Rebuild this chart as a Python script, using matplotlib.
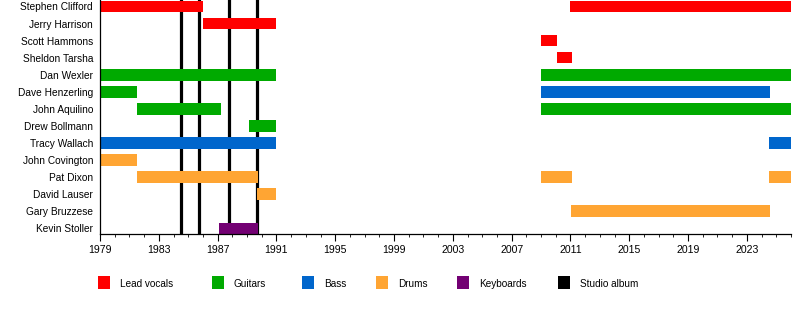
import matplotlib.pyplot as plt
from matplotlib.patches import Rectangle

plt.rcParams["font.family"] = ["Liberation Sans", "DejaVu Sans"]

C_VOCALS = "#ff0000"
C_GUITARS = "#00aa00"
C_BASS = "#0066cc"
C_DRUMS = "#ffa533"
C_KEYS = "#730073"
C_ALBUM = "#000000"

members = [
    "Stephen Clifford", "Jerry Harrison", "Scott Hammons", "Sheldon Tarsha",
    "Dan Wexler", "Dave Henzerling", "John Aquilino", "Drew Bollmann",
    "Tracy Wallach", "John Covington", "Pat Dixon", "David Lauser",
    "Gary Bruzzese", "Kevin Stoller",
]

# (member, start, end, colour)
periods = [
    ("Stephen Clifford", 1979.0, 1986.0, C_VOCALS),
    ("Stephen Clifford", 2011.0, 2026.0, C_VOCALS),
    ("Jerry Harrison", 1986.0, 1991.0, C_VOCALS),
    ("Scott Hammons", 2009.0, 2010.1, C_VOCALS),
    ("Sheldon Tarsha", 2010.1, 2011.1, C_VOCALS),
    ("Dan Wexler", 1979.0, 1991.0, C_GUITARS),
    ("Dan Wexler", 2009.0, 2026.0, C_GUITARS),
    ("Dave Henzerling", 1979.0, 1981.5, C_GUITARS),
    ("Dave Henzerling", 2009.0, 2024.6, C_BASS),
    ("John Aquilino", 1981.5, 1987.2, C_GUITARS),
    ("John Aquilino", 2009.0, 2026.0, C_GUITARS),
    ("Drew Bollmann", 1989.15, 1991.0, C_GUITARS),
    ("Tracy Wallach", 1979.0, 1991.0, C_BASS),
    ("Tracy Wallach", 2024.5, 2026.0, C_BASS),
    ("John Covington", 1979.0, 1981.5, C_DRUMS),
    ("Pat Dixon", 1981.5, 1989.75, C_DRUMS),
    ("Pat Dixon", 2009.0, 2011.1, C_DRUMS),
    ("Pat Dixon", 2024.5, 2026.0, C_DRUMS),
    ("David Lauser", 1989.7, 1991.0, C_DRUMS),
    ("Gary Bruzzese", 2011.05, 2024.6, C_DRUMS),
    ("Kevin Stoller", 1987.1, 1989.75, C_KEYS),
]

albums = [1984.5, 1985.7, 1987.75, 1989.7]

legend_labels = ["Lead vocals", "Guitars", "Bass", "Drums", "Keyboards", "Studio album"]
legend_colors = [C_VOCALS, C_GUITARS, C_BASS, C_DRUMS, C_KEYS, C_ALBUM]

X_MIN, X_MAX = 1979, 2026

fig = plt.figure(figsize=(8, 3.34), dpi=100)
ax = fig.add_axes([100 / 800, 1 - 234 / 334, 691 / 800, 234 / 334])

for x in albums:
    ax.axvline(x, color=C_ALBUM, linewidth=2.3, zorder=1)

row = {m: i for i, m in enumerate(members)}
for name, start, end, color in periods:
    ax.barh(row[name], end - start, left=start, height=0.68, color=color,
            linewidth=0, zorder=2)

ax.set_xlim(X_MIN, X_MAX)
ax.set_ylim(len(members) - 1 + 0.33, -0.38)
ax.set_yticks(range(len(members)))
ax.set_yticklabels(members, fontsize=7.3)
ax.tick_params(axis="y", length=0, pad=5)
ax.set_xticks(range(1979, 2026, 4))
ax.set_xticks(range(1979, 2027), minor=True)
ax.tick_params(axis="x", which="major", length=5, width=0.8, labelsize=7.6, pad=3)
ax.tick_params(axis="x", which="minor", length=2.5, width=0.6)
for s in ("top", "right"):
    ax.spines[s].set_visible(False)
for s in ("left", "bottom"):
    ax.spines[s].set_linewidth(0.9)

# legend drawn as squares in figure pixels
sq_x = [98, 212, 302, 376, 457, 558]
for x0, lab, col in zip(sq_x, legend_labels, legend_colors):
    fig.patches.append(Rectangle((x0 / 800, 1 - 289 / 334), 12 / 800, 13 / 334,
                                 transform=fig.transFigure, color=col, linewidth=0))
    fig.text((x0 + 22) / 800, 1 - 284 / 334, lab, fontsize=7.2, va="center", ha="left")

fig.savefig("out.png", dpi=100)
